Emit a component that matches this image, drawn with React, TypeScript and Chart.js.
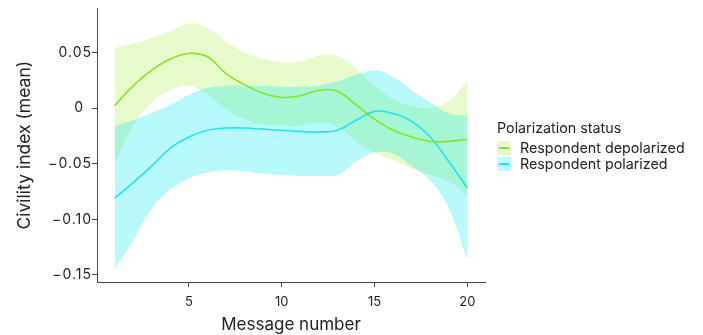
import React, { useEffect, useRef } from "react";
import { Chart, registerables } from "chart.js";

Chart.register(...registerables);

// ---- Data ----
const messageNumbers = [1, 2, 3, 4, 5, 6, 7, 8, 9, 10, 11, 12, 13, 14, 15, 16, 17, 18, 19, 20];

const depolarizedMean = [0.002, 0.020, 0.034, 0.044, 0.049, 0.046, 0.031, 0.021, 0.013, 0.0095, 0.011, 0.016, 0.015, 0.003, -0.010, -0.020, -0.026, -0.030, -0.030, -0.028];
const depolarizedUpper = [0.054, 0.058, 0.063, 0.069, 0.076, 0.072, 0.060, 0.050, 0.044, 0.041, 0.042, 0.047, 0.047, 0.035, 0.020, 0.008, 0.002, 0.000, 0.006, 0.025];
const depolarizedLower = [-0.050, -0.016, 0.005, 0.016, 0.020, 0.012, -0.001, -0.010, -0.015, -0.016, -0.016, -0.013, -0.017, -0.030, -0.040, -0.047, -0.054, -0.060, -0.066, -0.078];

const polarizedMean = [-0.081, -0.067, -0.052, -0.036, -0.026, -0.020, -0.018, -0.018, -0.019, -0.020, -0.021, -0.0215, -0.020, -0.011, -0.003, -0.005, -0.012, -0.026, -0.048, -0.072];
const polarizedUpper = [-0.016, -0.011, -0.004, 0.003, 0.012, 0.018, 0.020, 0.020, 0.020, 0.019, 0.019, 0.020, 0.024, 0.030, 0.034, 0.028, 0.016, 0.005, -0.005, -0.007];
const polarizedLower = [-0.145, -0.119, -0.090, -0.073, -0.063, -0.058, -0.056, -0.057, -0.059, -0.060, -0.061, -0.061, -0.060, -0.048, -0.040, -0.041, -0.052, -0.065, -0.090, -0.137];

const xTickValues = [5, 10, 15, 20];
const yTickValues = [-0.15, -0.1, -0.05, 0, 0.05];
const yTickLabels = ["\u22120.15", "\u22120.10", "\u22120.05", "0\u2002", "0.05"];

const seriesNames = ["Respondent depolarized", "Respondent polarized"];
const legendTitle = "Polarization status";
const xTitle = "Message number";
const yTitle = "Civility index (mean)";

// ---- Styles ----
const FONT = "Inter, 'Noto Sans', sans-serif";
const TEXT = "#222";
const AXIS = "#444";
const GREEN_LINE = "#86e422";
const CYAN_LINE = "#1fe3ef";
const GREEN_FILL = "rgba(140,230,0,0.21)";
const CYAN_FILL = "rgba(0,235,245,0.28)";

const pts = (ys: number[]) => messageNumbers.map((x, i) => ({ x, y: ys[i] }));

export default function App() {
  const ref = useRef<HTMLCanvasElement | null>(null);

  useEffect(() => {
    if (!ref.current) return;
    const band = (data: number[], fill: any, color: string, order: number) => ({
      data: pts(data),
      fill,
      backgroundColor: color,
      borderWidth: 0,
      borderColor: "rgba(0,0,0,0)",
      pointRadius: 0,
      tension: 0.4,
      order,
    });
    const chart = new Chart(ref.current, {
      type: "line",
      data: {
        datasets: [
          band(depolarizedUpper, "+1", GREEN_FILL, 2),
          band(depolarizedLower, false, GREEN_FILL, 2),
          band(polarizedUpper, "+1", CYAN_FILL, 1),
          band(polarizedLower, false, CYAN_FILL, 1),
          {
            label: seriesNames[0],
            data: pts(depolarizedMean),
            borderColor: GREEN_LINE,
            borderWidth: 1.6,
            pointRadius: 0,
            fill: false,
            tension: 0.4,
            order: 0,
          },
          {
            label: seriesNames[1],
            data: pts(polarizedMean),
            borderColor: CYAN_LINE,
            borderWidth: 1.6,
            pointRadius: 0,
            fill: false,
            tension: 0.4,
            order: 0,
          },
        ],
      },
      options: {
        animation: false,
        responsive: false,
        devicePixelRatio: 1,
        layout: { padding: { left: 0, right: 218, top: 8, bottom: 0 } },
        plugins: {
          legend: { display: false },
          tooltip: { enabled: false },
        },
        scales: {
          x: {
            type: "linear",
            min: 0.05,
            max: 20.95,
            afterBuildTicks: (s: any) => {
              s.ticks = xTickValues.map((v) => ({ value: v }));
            },
            afterFit: (s: any) => {
              s.height = 53;
            },
            ticks: {
              font: { family: FONT, size: 13 },
              color: TEXT,
              padding: 7,
              maxRotation: 0,
              autoSkip: false,
              callback: (v: any) => String(v),
            },
            grid: { display: true, drawOnChartArea: false, drawTicks: true, tickLength: 5, color: AXIS, lineWidth: 1 },
            border: { display: true, color: AXIS, width: 1 },
            title: {
              display: true,
              text: xTitle,
              font: { family: FONT, size: 17 },
              color: TEXT,
              padding: { top: 0, bottom: 0 },
            },
          },
          y: {
            type: "linear",
            min: -0.1563,
            max: 0.0895,
            afterBuildTicks: (s: any) => {
              s.ticks = yTickValues.map((v) => ({ value: v }));
            },
            afterFit: (s: any) => {
              s.width = 97;
              if (!s.__spaced) {
                s.__spaced = true;
                const orig = s.drawLabels;
                s.drawLabels = function (area: any) {
                  const ctx = this.ctx;
                  ctx.save();
                  (ctx as any).letterSpacing = "1px";
                  orig.call(this, area);
                  ctx.restore();
                };
              }
            },
            ticks: {
              font: { family: FONT, size: 14 },
              color: TEXT,
              padding: 0,
              autoSkip: false,
              callback: (v: any) => {
                const i = yTickValues.findIndex((t) => Math.abs(t - v) < 1e-9);
                return i >= 0 ? yTickLabels[i] : "";
              },
            },
            grid: { display: true, drawOnChartArea: false, drawTicks: true, tickLength: 5, color: AXIS, lineWidth: 1 },
            border: { display: true, color: AXIS, width: 1 },
            title: {
              display: true,
              text: yTitle,
              font: { family: FONT, size: 17.5 },
              color: TEXT,
              padding: { top: 14, bottom: 0 },
            },
          },
        },
      },
    });
    return () => chart.destroy();
  }, []);

  const chip = (fill: string, line: string) => (
    <span
      style={{
        position: "relative",
        display: "inline-block",
        width: 14,
        height: 14,
        background: fill,
        marginRight: 9,
        flex: "0 0 auto",
      }}
    >
      <span
        style={{
          position: "absolute",
          left: 2,
          right: 2,
          top: 6,
          height: 2,
          background: line,
        }}
      />
    </span>
  );

  return (
    <div
      style={{
        position: "fixed",
        left: 0,
        top: 0,
        width: 703,
        height: 335,
        background: "#fff",
        fontFamily: FONT,
        color: TEXT,
      }}
    >
      <canvas ref={ref} width={703} height={335} style={{ width: 703, height: 335, display: "block" }} />
      <div style={{ position: "absolute", left: 497, top: 119, fontSize: 14.3, lineHeight: "18px" }}>
        <div style={{ marginBottom: 3, whiteSpace: "nowrap" }}>{legendTitle}</div>
        <div style={{ display: "flex", alignItems: "center", height: 16, whiteSpace: "nowrap" }}>
          {chip("rgb(228,250,200)", GREEN_LINE)}
          {seriesNames[0]}
        </div>
        <div style={{ display: "flex", alignItems: "center", height: 16, whiteSpace: "nowrap" }}>
          {chip("rgb(188,251,253)", CYAN_LINE)}
          {seriesNames[1]}
        </div>
      </div>
    </div>
  );
}
